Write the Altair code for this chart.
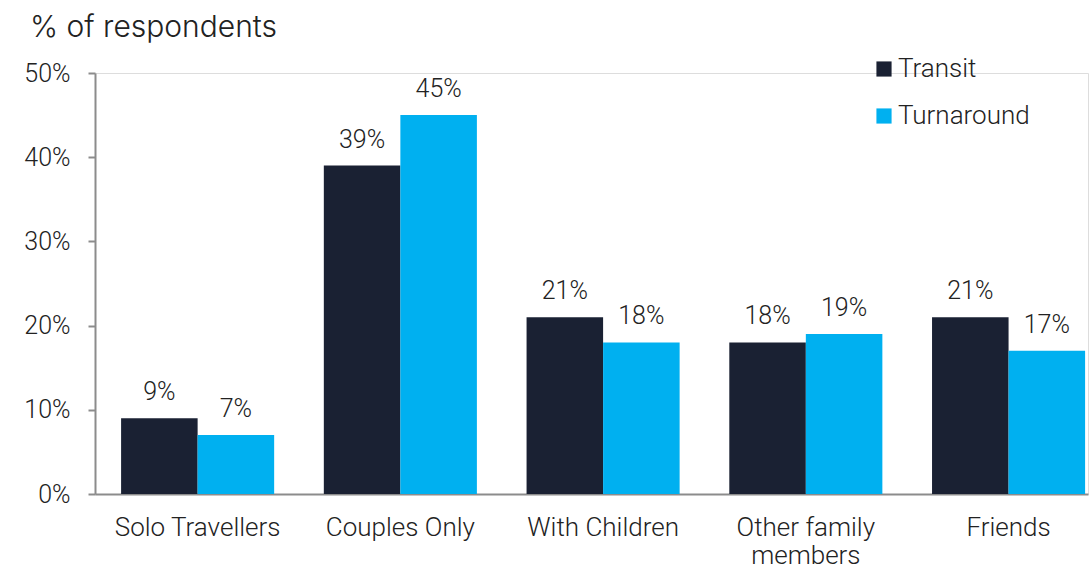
import altair as alt
import pandas as pd

categories = ["Solo Travellers", "Couples Only", "With Children", "Other family members", "Friends"]
transit = [9, 39, 21, 18, 21]
turnaround = [7, 45, 18, 19, 17]
series = ["Transit", "Turnaround"]
colors = ["#1a2133", "#00b0f0"]
title_text = ["% of respondents"]

rows = []
for c, a, b in zip(categories, transit, turnaround):
    rows.append({"cat": c, "series": "Transit", "val": a, "lab": f"{a}%"})
    rows.append({"cat": c, "series": "Turnaround", "val": b, "lab": f"{b}%"})
df = pd.DataFrame(rows)

FONT = "Roboto"

x = alt.X("cat:N", sort=categories, title=None,
          scale=alt.Scale(paddingInner=0.245, paddingOuter=0.0715, align=0.9),
          axis=alt.Axis(labelAngle=0, labelFont=FONT, labelFontSize=26, labelFontWeight=300,
                        labelColor="#222222", labelPadding=20, ticks=False,
                        domainColor="#8c8c8c", domainWidth=2, labelLineHeight=28,
                        labelExpr="datum.label == 'Other family members' ? ['Other family', 'members'] : datum.label"))
y = alt.Y("val:Q", title=None,
          scale=alt.Scale(domain=[0, 50], nice=False),
          axis=alt.Axis(values=[0, 10, 20, 30, 40, 50], labelExpr="datum.value + '%'",
                        labelFont=FONT, labelFontSize=25, labelFontWeight=300, labelColor="#222222",
                        labelPadding=18, tickSize=7, tickColor="#8c8c8c", tickWidth=2,
                        domainColor="#8c8c8c", domainWidth=2, grid=False))

base = alt.Chart(df).encode(
    x=x, y=y,
    xOffset=alt.XOffset("series:N", sort=series, scale=alt.Scale(paddingInner=0, paddingOuter=0)),
)

bars = base.mark_bar().encode(
    color=alt.Color("series:N", sort=series,
                    scale=alt.Scale(domain=series, range=colors),
                    legend=alt.Legend(title=None, orient="none", legendX=776, legendY=-17,
                                      symbolType="square", symbolSize=230, symbolStrokeWidth=0,
                                      labelFont=FONT, labelFontSize=26, labelFontWeight=300,
                                      labelColor="#222222", rowPadding=21, labelOffset=1))
)

texts = base.mark_text(baseline="alphabetic", dy=-18, font=FONT, fontSize=25,
                       fontWeight=300, color="#222222").encode(text="lab:N")

title = alt.Chart(pd.DataFrame({"t": title_text})).mark_text(
    align="left", baseline="alphabetic", font="Inter", fontSize=30, fontWeight=300,
    color="#222222"
).encode(text="t:N", x=alt.value(-65), y=alt.value(-36))

chart = alt.layer(bars, texts, title).properties(
    width=993, height=421,
    autosize=alt.AutoSizeParams(type="none"),
    padding={"left": 95, "top": 73, "right": 3, "bottom": 76},
).configure_view(stroke=None).configure(background="white")

chart.save("out.html", embed_options={"renderer": "svg", "actions": False})
